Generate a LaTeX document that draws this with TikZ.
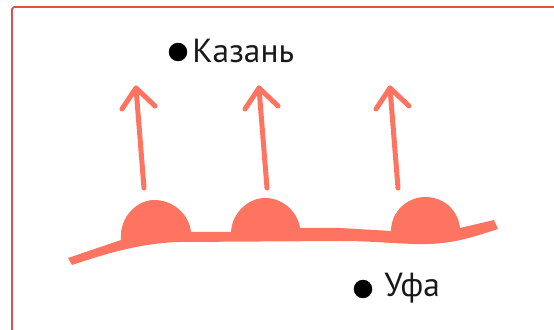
\documentclass[tikz,border=0pt]{standalone}
\usepackage{fontspec}
\setmainfont{PT Sans}
\usepackage{xcolor}
\definecolor{salmonline}{HTML}{FF7361}
\definecolor{framered}{HTML}{E04F4A}
\tikzset{
    cityname/.style={inner sep=0pt, anchor=west, font=\fontsize{19}{22}\selectfont, text=black!90},
    citydot/.style={circle, fill=black, inner sep=0pt, minimum size=0.37cm},
    windarrow/.style={line width=0.1cm, salmonline, line cap=round, line join=round},
    frontshape/.style={fill=salmonline}
}

\begin{document}
\begin{tikzpicture}[x=0.02cm, y=-0.02cm]
    \useasboundingbox (0, 0) rectangle (554, 330);

    % Draw frame
    \draw[framered, line width=0.032cm] (12, 330) -- (12, 9) -- (14, 7) -- (554, 7);

    % Draw cities
    \node[citydot] (kazandot) at (178, 52) {};
    \node[cityname] (kazan) at (192, 51) {Казань};
    \node[citydot] (ufadot) at (363, 289) {};
    \node[cityname] (ufa) at (384, 288) {Уфа};

    % Draw front with its three bumps
    \fill[frontshape] (68, 258) -- (121, 240)
        .. controls (119, 216) and (138, 200) .. (154, 200)
        .. controls (173, 200) and (189, 214) .. (191, 232)
        -- (231, 232)
        .. controls (232, 213) and (248, 198) .. (265, 198)
        .. controls (284, 198) and (298, 213) .. (300, 228)
        -- (340, 228) -- (391, 231)
        .. controls (391, 211) and (408, 197) .. (425, 197)
        .. controls (444, 197) and (458, 210) .. (460, 228)
        -- (494, 220) -- (498, 229)
        .. controls (470, 238) and (450, 245) .. (415, 244)
        .. controls (385, 243) and (370, 241) .. (340, 241)
        -- (180, 242)
        .. controls (140, 243) and (105, 254) .. (72, 265)
        -- cycle;

    % Draw arrows
    \foreach \name/\xtail/\xtip in {one/144/136, two/267/259, three/398/390} {
        \coordinate (tail\name) at (\xtail, 188);
        \coordinate (tip\name) at (\xtip, 88);
        \coordinate (left\name) at (\xtip-14, 109);
        \coordinate (right\name) at (\xtip+19, 106);
        \draw[windarrow] (tail\name) -- (tip\name);
        \draw[windarrow] (left\name) -- (tip\name) -- (right\name);
    }
\end{tikzpicture}
\end{document}
